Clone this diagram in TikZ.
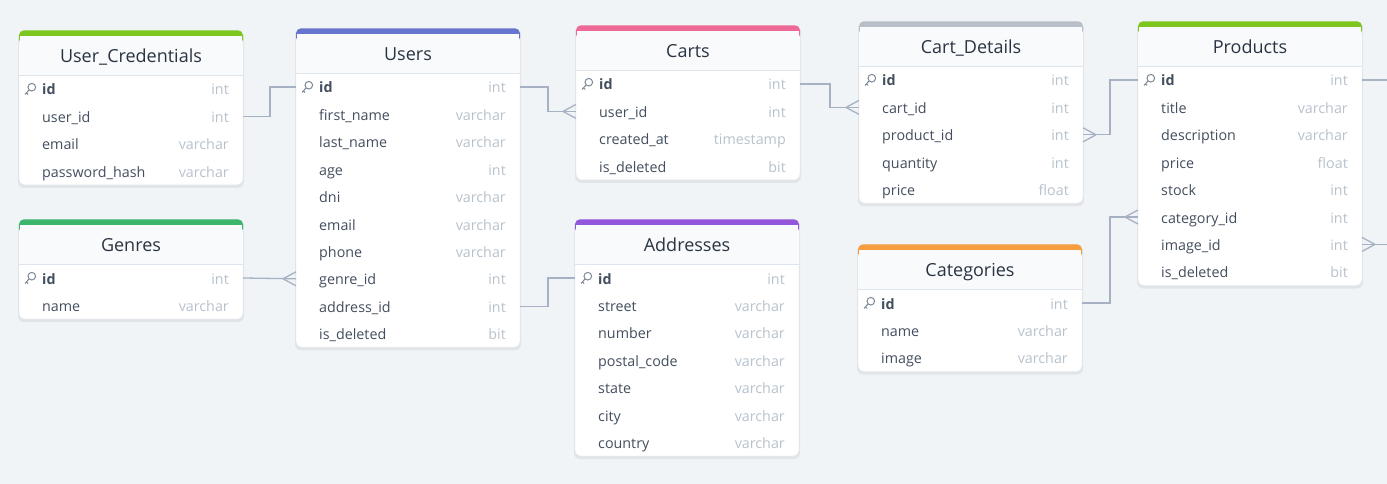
\documentclass[tikz,border=0pt]{standalone}
\usepackage{fontspec}
\setmainfont{Open Sans}
\usepackage{xcolor}
\usetikzlibrary{calc}
\usetikzlibrary{positioning}

\definecolor{bgcol}{HTML}{F0F4F7}
\definecolor{tblborder}{HTML}{DFE5EC}
\definecolor{headfill}{HTML}{F8FAFC}
\definecolor{namecol}{HTML}{434E5E}
\definecolor{typecol}{HTML}{B8C2CC}
\definecolor{titlecol}{HTML}{2A3441}
\definecolor{linecol}{HTML}{A6B2C4}
\definecolor{keycol}{HTML}{7D8896}
\definecolor{tgreen}{HTML}{7CC61E}
\definecolor{tblue}{HTML}{6875CF}
\definecolor{tpink}{HTML}{EE6A96}
\definecolor{tgray}{HTML}{B8BFC9}
\definecolor{tdkgreen}{HTML}{3CB66A}
\definecolor{tpurple}{HTML}{9457DB}
\definecolor{torange}{HTML}{F69D3F}

% one table: name, left, top, colour, title, rows, fields
\newcommand{\erdtable}[7]{%
  \pgfmathsetmacro{\tbot}{#3+45+#6*27.4}
  \fill[black, opacity=0.06, rounded corners=6pt] (#2-1,#3+1) rectangle (#2+225,\tbot+3);
  \filldraw[fill=white, draw=tblborder, rounded corners=6pt] (#2,#3) rectangle (#2+224,\tbot);
  \fill[#4, rounded corners=5pt] (#2,#3) rectangle (#2+224,#3+14);
  \fill[headfill] (#2+0.6,#3+6) rectangle (#2+223.4,#3+45);
  \draw[tblborder] (#2,#3+45) -- (#2+224,#3+45);
  \node[tabletitle] (#1) at (#2+112,#3+26) {#5};
  \foreach \f/\t [count=\i] in {#7} {
    \node[rowbox] (#1-\i) at (#2+112,#3+45+\i*27.4-13.7) {};
    \node[fieldname, right=23pt of #1-\i.west] (#1-\i n) {\f};
    \node[fieldtype, left=14pt of #1-\i.east] (#1-\i t) {\t};
  }
  \pic at ($(#1-1.west)+(11,0)$) {pkey};
}

\begin{document}
\begin{tikzpicture}[x=1pt, y=-1pt,
    tabletitle/.style={text=titlecol, font=\fontsize{18}{21}\selectfont, inner sep=0pt, text height=15pt, text depth=2pt},
    rowbox/.style={rectangle, minimum width=224pt, minimum height=27.4pt, inner sep=0pt, outer sep=0pt},
    fieldname/.style={text=namecol, font=\fontsize{14.3}{17}\selectfont, inner sep=0pt, text height=14pt, text depth=2pt},
    fieldtype/.style={text=typecol, font=\fontsize{14.3}{17}\selectfont, inner sep=0pt, text height=14pt, text depth=2pt},
    relline/.style={draw=linecol, line width=1.3pt},
    pkey/.pic={\draw[keycol, line width=1pt] (1.8,-1.8) circle (3.8pt) (-0.8,0.8) -- (-5,5.5) (-3.4,3.9) -- (-1.8,5.5);},
    crow/.pic={\draw[relline] (-13,0) -- (0,-7) (-13,0) -- (0,7);}]
  \fill[bgcol] (0,0) rectangle (1387,484);
  \useasboundingbox (0,0) rectangle (1387,484);
  \clip (0,0) rectangle (1387,484);

  \erdtable{uc}{19}{30.3}{tgreen}{User\_Credentials}{4}{\textbf{id}/int, user\_id/int, email/varchar, password\_hash/varchar}
  \erdtable{users}{296}{28.3}{tblue}{Users}{10}{\textbf{id}/int, first\_name/varchar, last\_name/varchar, age/int, dni/varchar, email/varchar, phone/varchar, genre\_id/int, address\_id/int, is\_deleted/bit}
  \erdtable{carts}{576}{25.3}{tpink}{Carts}{4}{\textbf{id}/int, user\_id/int, created\_at/timestamp, is\_deleted/bit}
  \erdtable{cd}{859}{21.3}{tgray}{Cart\_Details}{5}{\textbf{id}/int, cart\_id/int, product\_id/int, quantity/int, price/float}
  \erdtable{products}{1138}{21.3}{tgreen}{Products}{8}{\textbf{id}/int, title/varchar, description/varchar, price/float, stock/int, category\_id/int, image\_id/int, is\_deleted/bit}
  \erdtable{genres}{19}{219.3}{tdkgreen}{Genres}{2}{\textbf{id}/int, name/varchar}
  \erdtable{addr}{575}{219.3}{tpurple}{Addresses}{7}{\textbf{id}/int, street/varchar, number/varchar, postal\_code/varchar, state/varchar, city/varchar, country/varchar}
  \erdtable{cat}{858}{244.3}{torange}{Categories}{3}{\textbf{id}/int, name/varchar, image/varchar}

  \coordinate (rim) at (1400,0);

  \draw[relline] (uc-2.east) -- ++(27,0) |- (users-1.west);
  \draw[relline] (users-1.east) -- ++(28,0) |- (carts-2.west);
  \draw[relline] (carts-1.east) -- ++(30,0) |- (cd-2.west);
  \draw[relline] (cd-3.east) -- ++(27,0) |- (products-1.west);
  \draw[relline] (cat-1.east) -- ++(28,0) |- (products-6.west);
  \draw[relline] (genres-1.east) -- (users-8.west);
  \draw[relline] (users-9.east) -- ++(28,0) |- (addr-1.west);
  \draw[relline] (products-1.east) -- (products-1.east -| rim);
  \draw[relline] (products-7.east) -- (products-7.east -| rim);

  \pic at (carts-2.west) {crow};
  \pic at (cd-2.west) {crow};
  \pic at (users-8.west) {crow};
  \pic at (products-6.west) {crow};
  \pic[xscale=-1] at (cd-3.east) {crow};
  \pic[xscale=-1] at (products-7.east) {crow};
\end{tikzpicture}
\end{document}
